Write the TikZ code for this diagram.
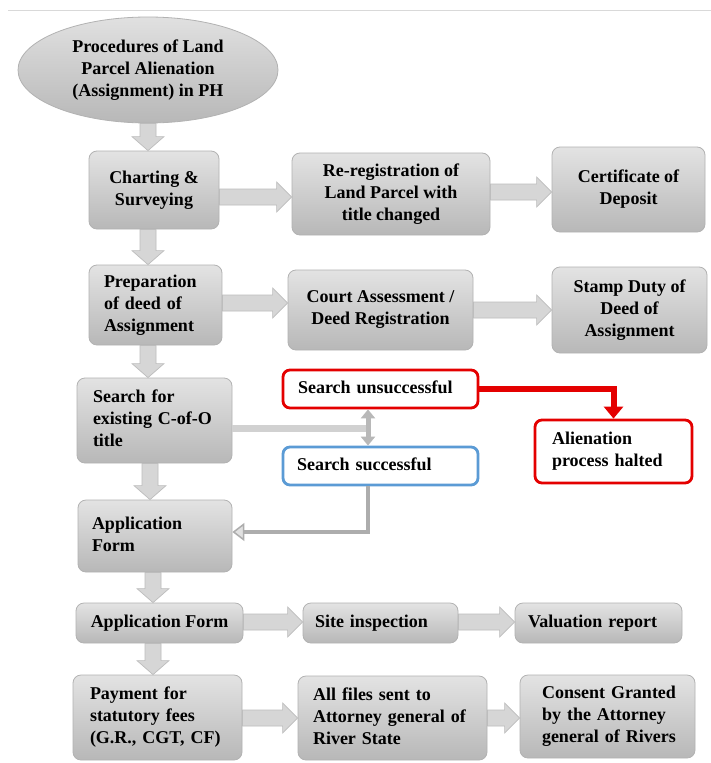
\documentclass[tikz,border=0pt]{standalone}
\usepackage{fontspec}
\setmainfont{Liberation Serif}
\usetikzlibrary{shapes.geometric,arrows.meta,calc}
\definecolor{bxblue}{RGB}{91,155,213}
\definecolor{bxred}{RGB}{228,0,0}
\newcommand\lns[1]{\begin{tabular}{@{}l@{}}#1\end{tabular}}
\newcommand\harr[3]{\path[blk] let \p1=(#1.east), \p2=(#2.west) in
  (\x1,-#3pt+8pt) -- (\x2-15pt,-#3pt+8pt) -- (\x2-15pt,-#3pt+15pt) -- (\x2,-#3pt)
  -- (\x2-15pt,-#3pt-15pt) -- (\x2-15pt,-#3pt-8pt) -- (\x1,-#3pt-8pt) -- cycle;}
\newcommand\varr[3]{\path[blk] let \p1=(#1.south), \p2=(#2.north) in
  (#3pt-8pt,\y1) -- (#3pt-8pt,\y2+14pt) -- (#3pt-16pt,\y2+14pt) -- (#3pt,\y2)
  -- (#3pt+16pt,\y2+14pt) -- (#3pt+8pt,\y2+14pt) -- (#3pt+8pt,\y1) -- cycle;}
\begin{document}
\begin{tikzpicture}[x=1pt,y=-1pt,
  every node/.style={font=\fontsize{18}{22}\selectfont\bfseries, inner ysep=0pt},
  gbox/.style={rectangle, rounded corners=8pt, draw=black!30, line width=0.8pt,
    top color=black!11, bottom color=black!28, align=center, inner xsep=4pt},
  ell/.style={ellipse, draw=black!30, line width=0.8pt, top color=black!12,
    bottom color=black!28, align=center, inner sep=0pt},
  sz/.style 2 args={minimum width=#1, minimum height=#2},
  lft/.style 2 args={align=left, text width=#1, inner xsep=#2},
  redbox/.style={rectangle, rounded corners=7pt, draw=bxred, line width=2.8pt, fill=white},
  bluebox/.style={rectangle, rounded corners=7pt, draw=bxblue, line width=2.8pt, fill=white},
  blk/.style={fill=black!16, draw=black!26, line width=0.7pt},
  redln/.style={draw=bxred, line width=6pt, -{Triangle[length=12pt,width=19pt]}},
  gline/.style={draw=black!32, line width=4pt,
    -{Triangle[length=12pt,width=18pt,fill=black!12,line width=1.5pt]}},
  dbl/.style={draw=black!28, line width=5pt,
    {Triangle[length=9pt,width=14pt]}-{Triangle[length=9pt,width=14pt]}}
]
\fill[white] (0,0) rectangle (711,763);
\useasboundingbox (0,0) rectangle (711,763);
\draw[black!15, line width=1pt] (8,10) -- (711,10);

% nodes
\node[ell, sz={260pt}{106pt}] (start) at (148,70) {Procedures of Land\\Parcel Alienation\\(Assignment) in PH};
\node[gbox, sz={130pt}{78pt}] (chart) at (154,190) {Charting \&\\Surveying};
\node[gbox, sz={198pt}{82pt}] (rereg) at (391,194) {Re-registration of\\Land Parcel with\\title changed};
\node[gbox, sz={153pt}{85pt}] (cert) at (628.5,189.5) {Certificate of\\Deposit};
\node[gbox, sz={133pt}{80pt}, lft={103pt}{15pt}] (prep) at (155.5,305) {\lns{Preparation\\of deed of\\Assignment}};
\node[gbox, sz={185pt}{80pt}] (court) at (380.5,310) {Court Assessment /\\Deed Registration};
\node[gbox, sz={155pt}{86pt}] (stamp) at (629.5,310) {Stamp Duty of\\Deed of\\Assignment};
\node[gbox, sz={155pt}{85pt}, lft={123pt}{16pt}] (search) at (154.5,420.5) {\lns{Search for\\existing C-of-O\\title}};
\node[redbox, sz={195pt}{38pt}, lft={165pt}{15pt}] (unsucc) at (380.5,389) {\lns{Search unsuccessful}};
\node[bluebox, sz={195pt}{38pt}, lft={167pt}{14pt}] (succ) at (380.5,466) {\lns{Search successful}};
\node[redbox, sz={157pt}{63pt}, lft={123pt}{17pt}] (halt) at (613.5,451.5) {\lns{Alienation\\process halted}};
\node[gbox, sz={154pt}{72pt}, lft={126pt}{14pt}] (app1) at (155,536) {\lns{Application\\Form}};
\node[gbox, sz={167pt}{40pt}] (app2) at (159.5,623) {Application Form};
\node[gbox, sz={155pt}{40pt}, lft={131pt}{12pt}] (site) at (380.5,623) {\lns{Site inspection}};
\node[gbox, sz={167pt}{40pt}, lft={141pt}{13pt}] (val) at (598.5,623) {\lns{Valuation report}};
\node[gbox, sz={169pt}{85pt}, lft={135pt}{17pt}] (pay) at (157.5,717.5) {\lns{Payment for\\statutory fees\\(G.R., CGT, CF)}};
\node[gbox, sz={189pt}{84pt}, lft={159pt}{15pt}] (files) at (392.5,718) {\lns{All files sent to\\Attorney general of\\River State}};
\node[gbox, sz={175pt}{83pt}, lft={131pt}{22pt}] (consent) at (607.5,716.5) {\lns{Consent Granted\\by the Attorney\\general of Rivers}};

% block arrows
\varr{start}{chart}{148}
\varr{chart}{prep}{148}
\varr{prep}{search}{148}
\varr{search}{app1}{150}
\varr{app1}{app2}{153}
\varr{app2}{pay}{153}
\harr{chart}{rereg}{197}
\harr{rereg}{cert}{192}
\harr{prep}{court}{303}
\harr{court}{stamp}{310}
\harr{app2}{site}{622}
\harr{site}{val}{622}
\harr{pay}{files}{718}
\harr{files}{consent}{718}

% search connectors
\coordinate (j) at (368,428);
\coordinate (k) at (368,532);
\draw[black!18, line width=7pt] (search.east |- j) -- (j);
\draw[dbl] (unsucc.south -| j) -- (succ.north -| j);
\draw[gline] (succ.south -| k) -- (k) -- (app1.east |- k);
\draw[redln] (unsucc.east) -| (halt.north);
\end{tikzpicture}
\end{document}
